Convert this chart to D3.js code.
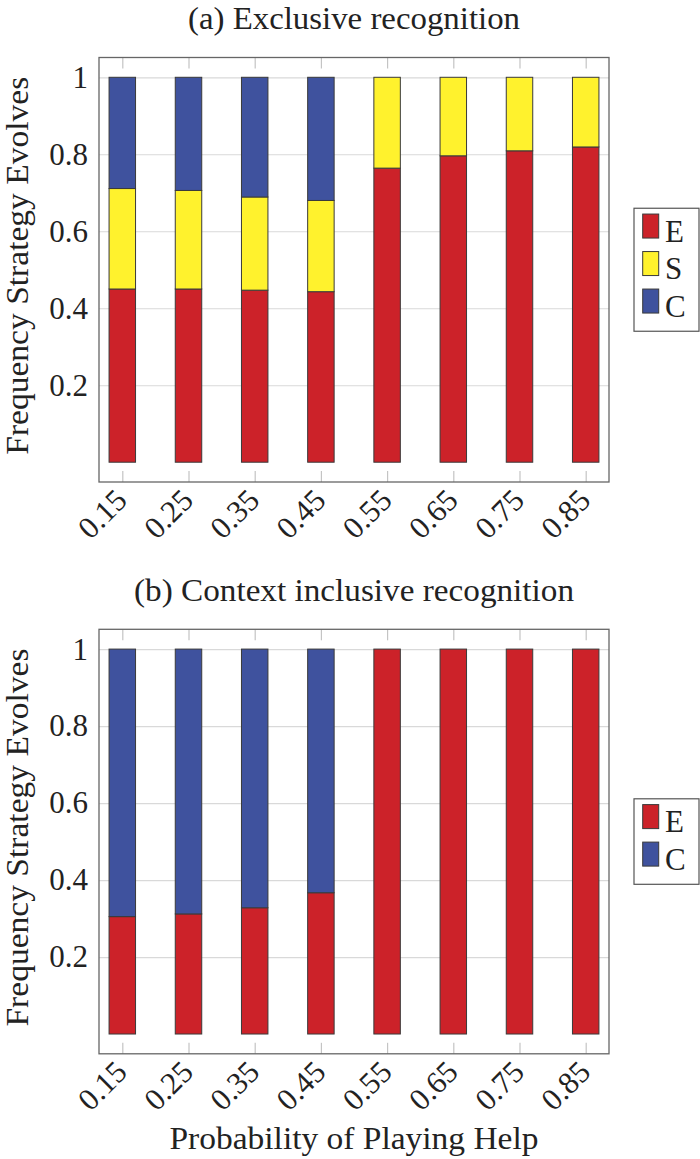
<!DOCTYPE html>
<html>
<head>
<meta charset="utf-8">
<script src="https://cdn.jsdelivr.net/npm/d3@7"></script>
<style>
    body { margin: 0; background: #fff; }
    svg { display: block; }
    text { font-family: "Liberation Serif", "DejaVu Serif", "Noto Serif", serif; fill: #222; }
</style>
</head>
<body>
<div id="graph-container"></div>
<script>
// values
const probabilities = ["0.15", "0.25", "0.35", "0.45", "0.55", "0.65", "0.75", "0.85"];

const exclusiveE = [0.450, 0.450, 0.447, 0.443, 0.764, 0.796, 0.809, 0.819];
const exclusiveS = [0.261, 0.256, 0.242, 0.237, 0.236, 0.204, 0.191, 0.181];
const exclusiveC = [0.289, 0.294, 0.311, 0.320, 0, 0, 0, 0];

const inclusiveE = [0.305, 0.312, 0.328, 0.367, 1, 1, 1, 1];
const inclusiveC = [0.695, 0.688, 0.672, 0.633, 0, 0, 0, 0];

const yTicks = [0.2, 0.4, 0.6, 0.8, 1];

const strategyColors = { E: "#cc2229", S: "#fff22d", C: "#3f529e" };

const WIDTH = 700,
    HEIGHT = 1159;

const plotLeft = 99,
    plotRight = 609,
    frameH = 424.5;

const serif = '"Liberation Serif", "DejaVu Serif", "Noto Serif", serif';

const svg = d3.select("#graph-container")
    .append("svg")
    .attr("width", WIDTH)
    .attr("height", HEIGHT);

const escalaX = d3.scalePoint()
    .domain(probabilities)
    .range([plotLeft, plotRight])
    .padding(0.352);

const barW = escalaX.step() * 0.4;

// serif label with its width pinned to the one in the figure
const label = (sel, str, size, len) => sel.append("text")
    .attr("font-size", size)
    .attr("font-family", serif)
    .attr("textLength", len)
    .attr("lengthAdjust", "spacingAndGlyphs")
    .text(str);

const drawPanel = (top, title, titleLen, series) => {

    const bottom = top + frameH;
    const mid = (top + bottom) / 2;

    const escalaY = d3.scaleLinear()
        .domain([-0.0514, 1.0514])
        .range([bottom, top]);

    const keys = series.map((s) => s.key);
    const rows = probabilities.map((p, i) => {
        const r = { p: p };
        series.forEach((s) => r[s.key] = s.values[i]);
        return r;
    });
    const stacked = d3.stack().keys(keys)(rows);

    const g = svg.append("g");

    // title
    label(g, title, 31, titleLen)
        .attr("x", (plotLeft + plotRight) / 2)
        .attr("y", top - 28.5)
        .attr("text-anchor", "middle");

    // y grid + labels
    const yAxis = g.append("g")
        .attr("transform", `translate(${plotLeft}, 0)`)
        .call(d3.axisLeft(escalaY)
            .tickValues(yTicks)
            .tickFormat(d3.format("~g"))
            .tickSize(-(plotRight - plotLeft))
            .tickPadding(11));
    yAxis.select(".domain").remove();
    yAxis.selectAll("line").attr("stroke", "#d9d9d9").attr("stroke-width", 1.2);
    yAxis.selectAll("text")
        .attr("font-size", 31)
        .attr("font-family", serif)
        .attr("fill", "#222");

    // x ticks, top and bottom (inward)
    const xTop = g.append("g")
        .attr("transform", `translate(0, ${top})`)
        .call(d3.axisTop(escalaX).tickSize(-11).tickFormat(""));
    xTop.select(".domain").remove();
    xTop.selectAll("line").attr("stroke", "#c4c4c4").attr("stroke-width", 1.2);

    const xBottom = g.append("g")
        .attr("transform", `translate(0, ${bottom})`)
        .call(d3.axisBottom(escalaX).tickSize(-11));
    xBottom.select(".domain").remove();
    xBottom.selectAll("line").attr("stroke", "#c4c4c4").attr("stroke-width", 1.2);
    xBottom.selectAll("text")
        .attr("font-size", 31)
        .attr("font-family", serif)
        .attr("fill", "#222")
        .attr("text-anchor", "end")
        .attr("x", 0)
        .attr("y", 0)
        .attr("dy", "0.32em")
        .attr("transform", "translate(-1, 13) rotate(-45)");

    // stacked bars
    g.append("g")
        .selectAll("g")
        .data(stacked)
        .join("g")
        .attr("fill", (serie) => strategyColors[serie.key])
        .selectAll("rect")
        .data((serie) => serie.filter((d) => d[1] - d[0] > 0))
        .join("rect")
        .attr("x", (d) => escalaX(d.data.p) - barW / 2)
        .attr("width", barW)
        .attr("y", (d) => escalaY(d[1]))
        .attr("height", (d) => escalaY(d[0]) - escalaY(d[1]))
        .attr("stroke", "#3a3a3a")
        .attr("stroke-width", 1);

    // frame
    g.append("rect")
        .attr("x", plotLeft)
        .attr("y", top)
        .attr("width", plotRight - plotLeft)
        .attr("height", frameH)
        .attr("fill", "none")
        .attr("stroke", "#666")
        .attr("stroke-width", 1.3);

    // y label
    label(g, "Frequency Strategy Evolves", 31, 378)
        .attr("transform", `translate(28, ${mid - 4}) rotate(-90)`)
        .attr("text-anchor", "middle");

    // legend
    const rowGap = 37.5;
    const boxH = (keys.length - 1) * rowGap + 48;
    const boxTop = mid - boxH / 2;
    const legend = g.append("g");
    legend.append("rect")
        .attr("x", 634)
        .attr("y", boxTop)
        .attr("width", 65)
        .attr("height", boxH)
        .attr("fill", "#fff")
        .attr("stroke", "#555")
        .attr("stroke-width", 1.2);

    const items = legend.selectAll("g.item")
        .data(keys)
        .join("g")
        .attr("class", "item")
        .attr("transform", (k, i) => `translate(0, ${boxTop + 22.8 + i * rowGap})`);
    items.append("rect")
        .attr("x", 642.7)
        .attr("y", -17)
        .attr("width", 16)
        .attr("height", 24)
        .attr("fill", (k) => strategyColors[k])
        .attr("stroke", "#3a3a3a")
        .attr("stroke-width", 1);
    items.append("text")
        .attr("x", 665)
        .attr("y", 10.5)
        .attr("font-size", 31)
        .attr("font-family", serif)
        .text((k) => k);
};

drawPanel(57.5, "(a) Exclusive recognition", 332, [
    { key: "E", values: exclusiveE },
    { key: "S", values: exclusiveS },
    { key: "C", values: exclusiveC }
]);

drawPanel(629.3, "(b) Context inclusive recognition", 440, [
    { key: "E", values: inclusiveE },
    { key: "C", values: inclusiveC }
]);

label(svg, "Probability of Playing Help", 32, 369)
    .attr("x", (plotLeft + plotRight) / 2)
    .attr("y", 1149)
    .attr("text-anchor", "middle");
</script>
</body>
</html>
